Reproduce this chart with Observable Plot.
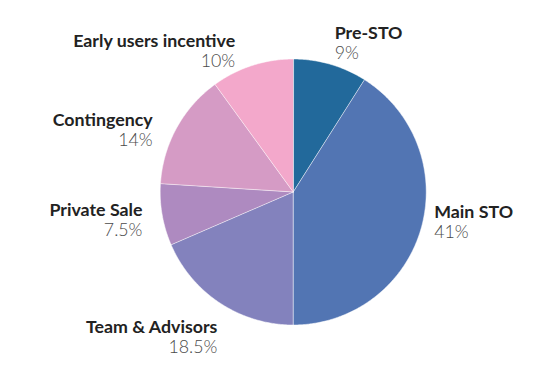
<!DOCTYPE html>
<html><head><meta charset="utf-8">
<script src="https://cdn.jsdelivr.net/npm/d3@7"></script>
<script src="https://cdn.jsdelivr.net/npm/@observablehq/plot@0.6"></script>
<style>body{margin:0;background:#fff}svg{display:block}</style>
</head><body><div id="chart"></div>
<script>
// ---- data ----
const categories = ["Pre-STO", "Main STO", "Team & Advisors", "Private Sale", "Contingency", "Early users incentive"];
const shares = [9, 41, 18.5, 7.5, 14, 10];
const shareLabels = ["9%", "41%", "18.5%", "7.5%", "14%", "10%"];

// ---- styles / layout ----
const sliceColors = ["#22699b", "#5275b3", "#8382bd", "#ae8ac0", "#d59bc5", "#f3a8cb"];
const R = 133, labelR = 1.12;
const labelNudge = [[0, -10], [-2, -16], [6, 16], [-4, -2], [-10, 6], [-12, -3]];

const rows = categories.map((name, i) => ({name, share: shares[i], label: shareLabels[i]}));
const arcs = d3.pie().sort(null).value(d => d.share)(rows);
const pt = (a, r = 1) => [r * Math.sin(a), -r * Math.cos(a)];
const features = arcs.map(a => {
  const ring = [[0, 0]];
  const n = Math.max(2, Math.ceil((a.endAngle - a.startAngle) / (Math.PI / 360)));
  for (let k = 0; k <= n; k++) ring.push(pt(a.startAngle + (a.endAngle - a.startAngle) * k / n));
  ring.push([0, 0]);
  return {type: "Feature", properties: a.data, geometry: {type: "Polygon", coordinates: [ring]}};
});
const labels = arcs.map((a, i) => {
  const m = (a.startAngle + a.endAngle) / 2;
  const [x, y] = pt(m, labelR);
  return {...a.data, x: x + labelNudge[i][0] / R, y: y + labelNudge[i][1] / R, right: Math.sin(m) > 0};
});
const nameFont = {fontFamily: "Lato", fontWeight: 700, fontSize: 17.8, fill: "#222"};
const pctFont = {fontFamily: "Lato", fontWeight: 300, fontSize: 17.8, fill: "#4a4a4a"};
const textMarks = [true, false].flatMap(side => {
  const d = labels.filter(l => l.right === side);
  const textAnchor = side ? "start" : "end";
  return [
    Plot.text(d, {x: "x", y: "y", text: "name", textAnchor, lineAnchor: "bottom", ...nameFont}),
    Plot.text(d, {x: "x", y: "y", text: "label", textAnchor, lineAnchor: "bottom", dy: 20, ...pctFont})
  ];
});

const chart = Plot.plot({
  width: 551, height: 382,
  marginLeft: 159.7, marginRight: 125.3, marginTop: 58.5, marginBottom: 57.5,
  projection: {type: "identity", domain: {type: "Polygon", coordinates: [[[-1, -1], [1, -1], [1, 1], [-1, 1], [-1, -1]]]}, clip: false},
  color: {type: "ordinal", domain: categories, range: sliceColors},
  style: {fontFamily: "Lato", background: "#fff"},
  marks: [
    Plot.geo(features, {fill: d => d.properties.name, stroke: "#fff", strokeWidth: 0.7, strokeOpacity: 0.7}),
    ...textMarks
  ]
});
document.getElementById("chart").append(chart);
</script>
</body></html>
